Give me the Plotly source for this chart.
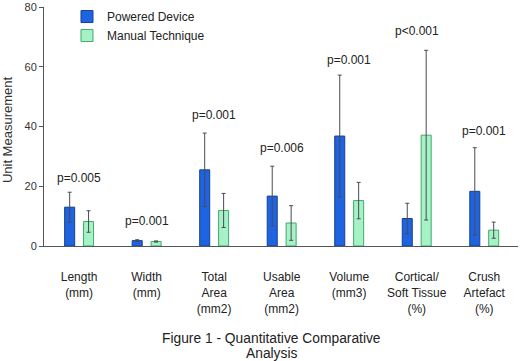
import plotly.graph_objects as go

categories = ["Length<br>(mm)", "Width<br>(mm)", "Total<br>Area<br>(mm2)", "Usable<br>Area<br>(mm2)",
              "Volume<br>(mm3)", "Cortical/<br>Soft Tissue<br>(%)", "Crush<br>Artefact<br>(%)"]
powered = [13.0, 1.8, 25.5, 16.7, 36.8, 9.2, 18.3]
powered_err = [5.0, 0.3, 12.3, 10.0, 20.4, 5.1, 14.6]
manual = [8.2, 1.5, 11.9, 7.7, 15.2, 37.1, 5.3]
manual_err = [3.6, 0.2, 5.7, 5.8, 6.1, 28.4, 2.7]
p_labels = ["p=0.005", "p=0.001", "p=0.001", "p=0.006", "p=0.001", "p<0.001", "p=0.001"]
p_y = [22.8, 8.4, 43.7, 32.9, 62.3, 71.9, 38.4]
y_ticks = [0, 20, 40, 60, 80]

x = list(range(len(categories)))
FONT = "Arial, Liberation Sans, sans-serif"

fig = go.Figure()
fig.add_trace(go.Bar(
    x=x, y=powered, name="Powered Device",
    marker=dict(color="#1f63e0", line=dict(color="#16408f", width=1)),
    error_y=dict(type="data", array=powered_err, color="#4a4a55", thickness=1, width=2),
))
fig.add_trace(go.Bar(
    x=x, y=manual, name="Manual Technique",
    marker=dict(color="#a6f2c6", line=dict(color="#3faa6a", width=1)),
    error_y=dict(type="data", array=manual_err, color="#4a4a55", thickness=1, width=2),
))

for xi, lab, yy in zip(x, p_labels, p_y):
    fig.add_annotation(x=xi, y=yy, text=lab, showarrow=False, xref="x", yref="y",
                       font=dict(size=12, color="#222", family=FONT))

fig.add_annotation(x=-0.078, y=0.485, xref="paper", yref="paper", text="Unit Measurement",
                   showarrow=False, textangle=-90, xanchor="center", yanchor="middle",
                   font=dict(size=13, color="#333", family=FONT))

fig.add_annotation(x=0.481, y=-0.389, xref="paper", yref="paper", yanchor="middle",
                   text="Figure 1 - Quantitative Comparative", showarrow=False,
                   font=dict(size=13.8, color="#222", family=FONT))
fig.add_annotation(x=0.481, y=-0.451, xref="paper", yref="paper", yanchor="middle",
                   text="Analysis", showarrow=False,
                   font=dict(size=13.8, color="#222", family=FONT))

fig.update_layout(
    width=520, height=361,
    margin=dict(l=44, r=2, t=5, b=115),
    paper_bgcolor="white", plot_bgcolor="white",
    barmode="group", bargap=0.44, bargroupgap=0.47,
    font=dict(family=FONT, size=11, color="#333"),
    showlegend=True,
    legend=dict(x=0.0485, y=1.0207, xanchor="left", yanchor="top",
                bgcolor="rgba(0,0,0,0)", font=dict(size=12, color="#222"),
                tracegroupgap=0, itemwidth=30),
    xaxis=dict(range=[-0.52, 6.5], tickmode="array", tickvals=x, ticktext=categories,
               showline=True, linecolor="#555", linewidth=1, ticks="", showgrid=False,
               zeroline=False, ticklabelstandoff=20, tickfont=dict(size=12, color="#222")),
    yaxis=dict(range=[0, 80], tickvals=y_ticks, showline=True, linecolor="#555",
               linewidth=1, ticks="outside", ticklen=4, tickcolor="#555", showgrid=False,
               zeroline=False, ticklabeloverflow="allow", tickfont=dict(size=11, color="#333")),
)

fig.write_html("out.html", config={"displayModeBar": False},
               post_script="document.body.style.margin='0';")
